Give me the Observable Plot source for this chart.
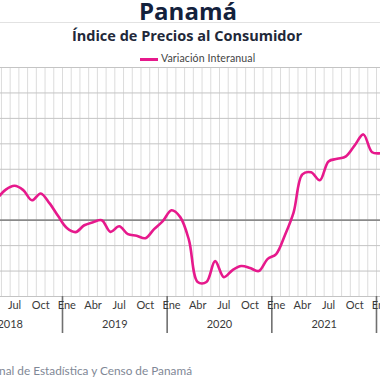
<!DOCTYPE html>
<html><head><meta charset="utf-8">
<script src="https://cdn.jsdelivr.net/npm/d3@7"></script>
<script src="https://cdn.jsdelivr.net/npm/@observablehq/plot@0.6"></script>
<style>
html,body{margin:0;padding:0;background:#fff;width:380px;height:380px;overflow:hidden;position:relative;font-family:Lato,sans-serif}
#chart{position:absolute;left:0;top:0}
#title{position:absolute;left:0;width:376px;top:-6px;text-align:center;font:bold 24px 'Open Sans';color:#13213c;white-space:nowrap}
#rule{position:absolute;left:0;width:380px;top:22px;border-top:1px solid #e2e2e2}
#sub{position:absolute;left:0;width:374px;top:26px;text-align:center;font:bold 14.5px 'Open Sans';color:#222839;white-space:nowrap}
#swatch{position:absolute;left:140px;top:58px;width:18px;height:3px;background:#e6198c}
#legtext{position:absolute;left:161px;top:52px;font:10.6px Lato;letter-spacing:0.1px;color:#444;white-space:nowrap}
#caption{position:absolute;right:188px;top:363px;white-space:nowrap;font:11.8px Lato;color:#7f8896}
</style>
</head><body>
<div id="chart"></div>
<div id="title">Panamá</div>
<div id="rule"></div>
<div id="sub">Índice de Precios al Consumidor</div>
<div id="swatch"></div>
<div id="legtext">Variación Interanual</div>
<div id="caption">Fuente: Instituto Nacional de Estadística y Censo de Panamá</div>
<script>
const months = ["2018-04","2018-05","2018-06","2018-07","2018-08","2018-09","2018-10","2018-11","2018-12",
  "2019-01","2019-02","2019-03","2019-04","2019-05","2019-06","2019-07","2019-08","2019-09","2019-10","2019-11","2019-12",
  "2020-01","2020-02","2020-03","2020-04","2020-05","2020-06","2020-07","2020-08","2020-09","2020-10","2020-11","2020-12",
  "2021-01","2021-02","2021-03","2021-04","2021-05","2021-06","2021-07","2021-08","2021-09","2021-10","2021-11","2021-12",
  "2022-01","2022-02"];
const values = [0.5,0.85,1.2,1.35,1.18,0.78,1.05,0.67,0.16,
  -0.31,-0.47,-0.2,-0.08,0.0,-0.46,-0.24,-0.55,-0.61,-0.71,-0.35,-0.04,
  0.39,0.12,-0.78,-2.43,-2.43,-1.61,-2.24,-1.96,-1.8,-1.88,-2.0,-1.53,
  -1.33,-0.59,0.31,1.8,1.88,1.57,2.31,2.41,2.51,2.94,3.37,2.67,
  2.63,2.7];
const monthNames = ["Ene","Feb","Mar","Abr","May","Jun","Jul","Ago","Sep","Oct","Nov","Dic"];
const years = [2018,2019,2020,2021,2022];
const yTicks = [-3,-2,-1,0,1,2,3,4,5,6];

const idx = s => (+s.slice(0,4) - years[0]) * 12 + (+s.slice(5,7) - 1);
const data = months.map((m,i) => ({t: idx(m) + 0.5, v: values[i]}));
const monthStarts = d3.range(0, years.length * 12 + 1);
const tickLabels = monthStarts.filter(i => i % 3 === 0 && i < years.length*12).map(i => ({t: i + 0.5, label: monthNames[i % 12]}));
const yearLabels = years.map((y,i) => ({t: i*12 + 6, label: String(y)}));
const yearSeps = years.map((y,i) => i*12).filter(i => i > 0);

const chart = Plot.plot({
  width: 380, height: 380,
  marginLeft: 0, marginRight: 0, marginTop: 67, marginBottom: 84,
  x: {domain: [4.892, 48.46], axis: null},
  y: {domain: [-3, 6], axis: null},
  style: {fontFamily: "Lato", background: "transparent"},
  marks: [
    Plot.ruleX(monthStarts, {x: d => d, stroke: "#dcdcdc", strokeWidth: 1, clip: true}),
    Plot.ruleY(yTicks.filter(d => d !== 0), {y: d => d, stroke: "#c4c4c4", strokeWidth: 1}),
    Plot.ruleY([0], {stroke: "#8a8a8a", strokeWidth: 1.6}),
    Plot.ruleX(yearSeps, {x: d => d, stroke: "#707070", strokeWidth: 1.6, insetTop: 229, insetBottom: -37}),
    Plot.line(data, {x: "t", y: "v", stroke: "#e6198c", strokeWidth: 2.6, curve: "catmull-rom", clip: true}),
    Plot.text(tickLabels, {x: "t", text: "label", frameAnchor: "bottom", dy: 12, fontSize: 11, fill: "#3a3a3a"}),
    Plot.text(yearLabels, {x: "t", text: "label", frameAnchor: "bottom", dy: 31, fontSize: 11, fill: "#3a3a3a"})
  ]
});
document.getElementById("chart").appendChild(chart);
</script>
</body></html>
